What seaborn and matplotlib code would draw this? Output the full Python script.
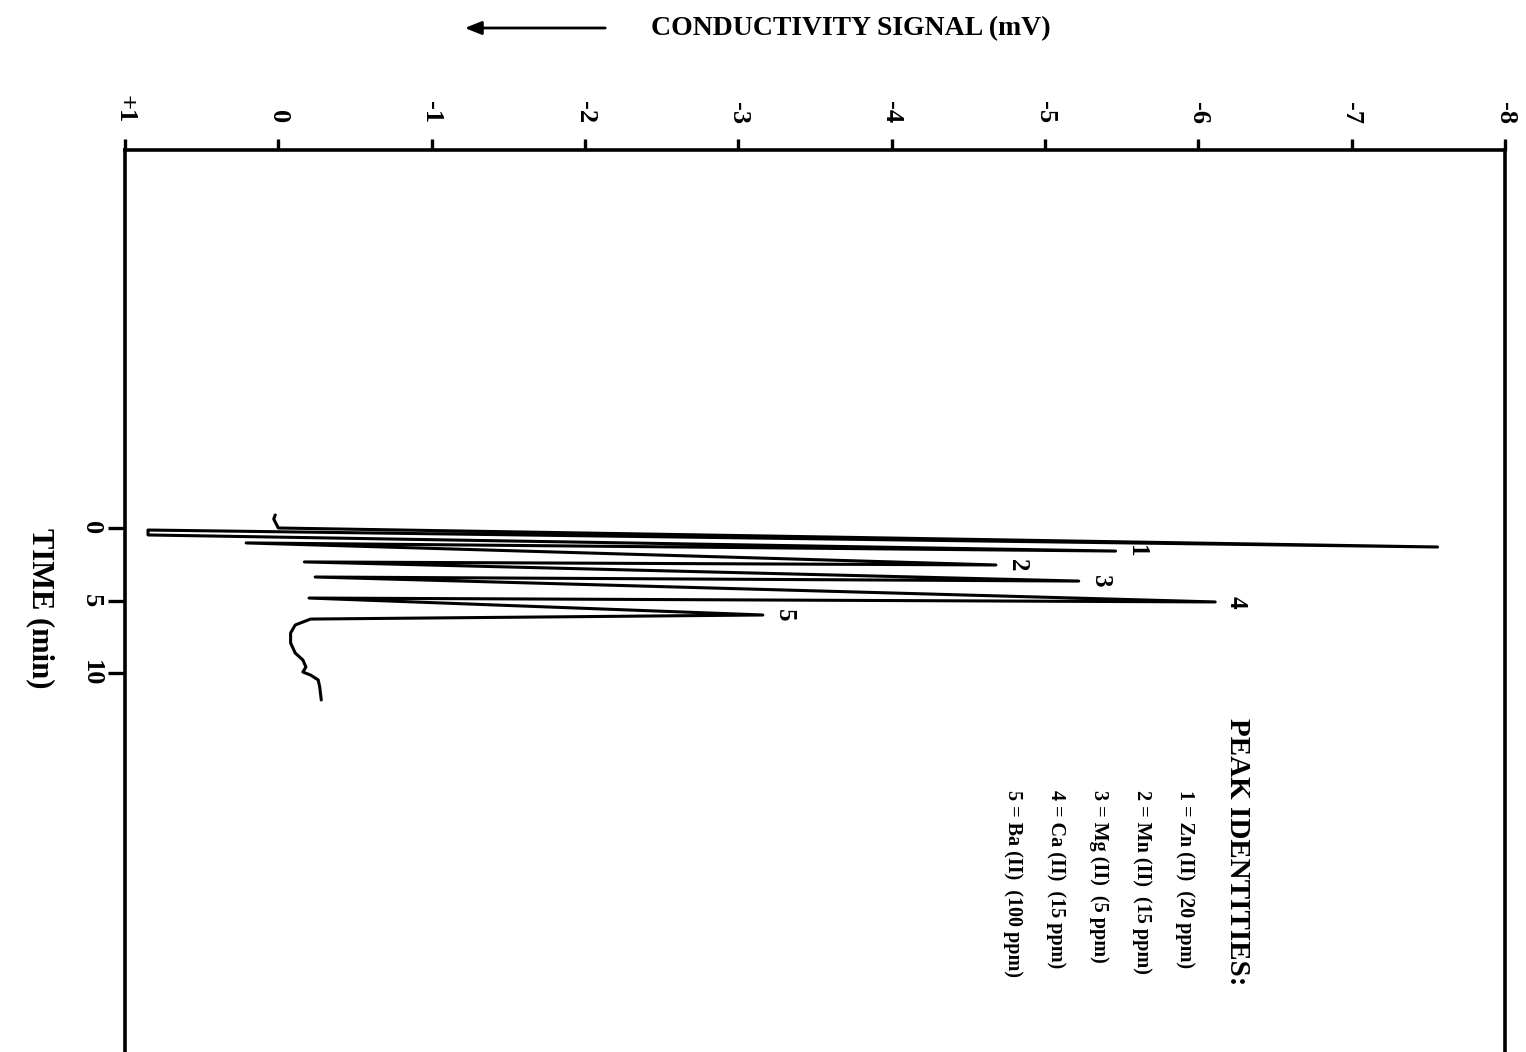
import matplotlib
matplotlib.use("Agg")
import matplotlib.pyplot as plt
import pandas as pd
import seaborn as sns

# Baseline just before injection (time in min, signal in mV)
lead_time = [-0.90, -0.62, -0.41, 0.00]
lead_signal = [0.02, 0.03, 0.02, 0.00]

# Spike apexes: system peak, then peaks 1-5
apex_label = ["", "1", "2", "3", "4", "5"]
apex_time = [1.31, 1.59, 2.55, 3.66, 5.10, 6.00]
apex_signal = [-7.56, -5.46, -4.68, -5.22, -6.11, -3.16]

# Positive overshoot after the system peak
overshoot_time = [0.14, 0.48]
overshoot_signal = [0.85, 0.85]

# Returns toward the baseline between peaks 1-5
valley_time = [1.03, 2.34, 3.38, 4.83]
valley_signal = [0.21, -0.17, -0.24, -0.20]

# Baseline drift after the last peak
tail_time = [6.28, 6.69, 7.24, 7.93, 8.62, 9.10, 9.59, 9.93, 10.14, 10.48, 10.97, 11.86]
tail_signal = [-0.21, -0.11, -0.08, -0.08, -0.11, -0.16, -0.18, -0.16, -0.21, -0.26, -0.27, -0.28]

# Axis ticks
signal_ticks = [1, 0, -1, -2, -3, -4, -5, -6, -7, -8]
signal_tick_labels = ["+1", "0", "-1", "-2", "-3", "-4", "-5", "-6", "-7", "-8"]
time_ticks = [0, 5, 10]

# Legend entries
legend_title = "PEAK IDENTITIES:"
legend_lines = [
    "1 = Zn (II)  (20 ppm)",
    "2 = Mn (II)  (15 ppm)",
    "3 = Mg (II)  (5 ppm)",
    "4 = Ca (II)  (15 ppm)",
    "5 = Ba (II)  (100 ppm)",
]

# Assemble the recorder trace in drawing order
t_path = list(lead_time) + [apex_time[0]] + list(overshoot_time) + [apex_time[1]]
v_path = list(lead_signal) + [apex_signal[0]] + list(overshoot_signal) + [apex_signal[1]]
for vt, vs, at, asig in zip(valley_time, valley_signal, apex_time[2:], apex_signal[2:]):
    t_path += [vt, at]
    v_path += [vs, asig]
t_path += tail_time
v_path += tail_signal
trace = pd.DataFrame({"time": t_path, "signal": v_path})

sns.set_theme(style="white")
plt.rcParams["font.family"] = ["Liberation Serif", "DejaVu Serif"]
plt.rcParams["font.weight"] = "bold"
plt.rcParams["text.color"] = "black"
plt.rcParams["xtick.color"] = "black"
plt.rcParams["ytick.color"] = "black"

W, H = 1526, 1052
fig = plt.figure(figsize=(W / 100, H / 100), dpi=100)
fig.patch.set_facecolor("white")
ax = fig.add_axes([125 / W, 0, 1380 / W, (H - 150) / H])

sns.lineplot(data=trace, x="signal", y="time", sort=False, estimator=None,
             color="black", linewidth=2.2, ax=ax, legend=False)
for ln in ax.lines:
    ln.set_solid_joinstyle("round")
    ln.set_solid_capstyle("round")

ax.set_xlim(1, -8)
ax.set_ylim((H - 528) / 14.5, (150 - 528) / 14.5)

# Frame: top, left and right only
for side in ["top", "left", "right"]:
    ax.spines[side].set_visible(True)
    ax.spines[side].set_color("black")
    ax.spines[side].set_linewidth(2.6)
ax.spines["bottom"].set_visible(False)

ax.xaxis.set_ticks_position("top")
ax.xaxis.set_label_position("top")
ax.set_xticks(signal_ticks)
ax.set_xticklabels(signal_tick_labels, rotation=-90, fontsize=19, fontweight="bold",
                   color="black")
ax.tick_params(axis="x", direction="out", length=8, width=2.4, pad=11, colors="black",
               top=True, bottom=False)

ax.set_yticks(time_ticks)
ax.set_yticklabels([str(t) for t in time_ticks], rotation=-90, fontsize=19,
                   fontweight="bold", va="center", color="black")
ax.tick_params(axis="y", direction="out", length=12, width=2.4, pad=4, colors="black",
               left=True, right=False)
ax.set_xlabel("")
ax.set_ylabel("")

# Peak numbers beside each apex
for lab, at, asig in zip(apex_label, apex_time, apex_signal):
    if lab:
        ax.annotate(lab, xy=(asig, at), xytext=(7, 0), textcoords="offset points",
                    rotation=-90, ha="left", va="center", fontsize=18,
                    fontweight="bold", color="black")

# Axis titles
fig.text(40 / W, 1 - 608 / H, "TIME (min)", rotation=-90, ha="center", va="center",
         fontsize=22, fontweight="bold", color="black")
fig.text(851 / W, 1 - 29 / H, "CONDUCTIVITY SIGNAL (mV)", ha="center", va="center",
         fontsize=20, fontweight="bold", color="black")
fig.add_artist(matplotlib.patches.FancyArrowPatch(
    (608 / W, 1 - 28 / H), (462 / W, 1 - 28 / H), transform=fig.transFigure,
    arrowstyle="-|>,head_length=10,head_width=4", mutation_scale=1,
    linewidth=2, color="black"))

# Peak identity list
fig.text(1237 / W, 1 - 718 / H, legend_title, rotation=-90, ha="center", va="top",
         fontsize=21, fontweight="bold", color="black")
for i, line in enumerate(legend_lines):
    x = 1185 - i * 43
    fig.text(x / W, 1 - 790 / H, line, rotation=-90, ha="center", va="top",
             fontsize=14.5, fontweight="bold", color="black")

fig.savefig("out.png", dpi=100, facecolor="white")
